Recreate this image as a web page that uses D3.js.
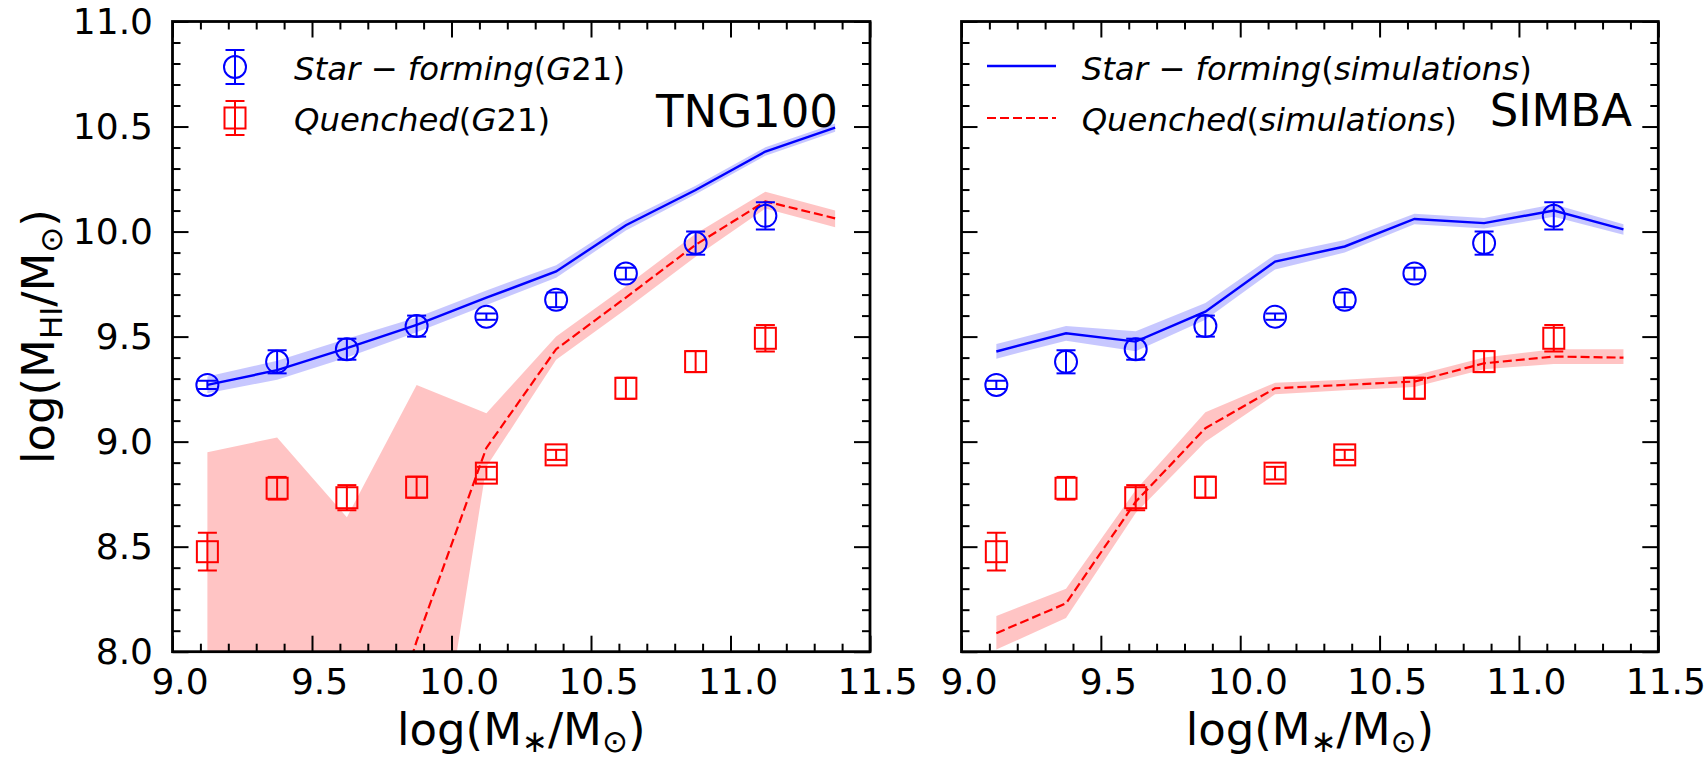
<!DOCTYPE html>
<html>
<head>
<meta charset="utf-8">
<script src="https://cdn.jsdelivr.net/npm/d3@7"></script>
<style>
  html, body { margin: 0; padding: 0; background: #fff; }
  svg { display: block; font-family: "DejaVu Sans", sans-serif; }
</style>
</head>
<body>
<svg id="chart" width="1706" height="759"></svg>
<script>
// Stellar-mass bins of the observed (G21) points and of the simulation medians
const massBins = [9.125, 9.375, 9.625, 9.875, 10.125, 10.375, 10.625, 10.875, 11.125];
const simBins = [9.125, 9.375, 9.625, 9.875, 10.125, 10.375, 10.625, 10.875, 11.125, 11.375];

// Observed HI masses, G21
const sfG21 = [9.27, 9.38, 9.44, 9.55, 9.595, 9.675, 9.80, 9.945, 10.075];
const sfG21Err = [0.02, 0.055, 0.05, 0.05, 0.015, 0.035, 0.028, 0.055, 0.065];
const qG21 = [8.476, 8.778, 8.733, 8.783, 8.85, 8.937, 9.254, 9.381, 9.492];
const qG21Err = [0.09, 0.054, 0.06, 0.05, 0.03, 0.024, 0.05, 0.05, 0.063];

// TNG100 medians and scatter bands
const tngSF = [9.27, 9.34, 9.445, 9.556, 9.685, 9.81, 10.03, 10.198, 10.381, 10.495];
const tngSFLow = [9.23, 9.295, 9.40, 9.521, 9.65, 9.78, 10.005, 10.178, 10.361, 10.475];
const tngSFHigh = [9.31, 9.385, 9.49, 9.591, 9.72, 9.84, 10.055, 10.218, 10.401, 10.515];
const tngQ = [7.0, 7.2, 7.0, 8.05, 8.97, 9.44, 9.686, 9.937, 10.144, 10.063];
const tngQLow = [6.5, 6.6, 6.4, 6.8, 8.88, 9.39, 9.63, 9.88, 10.11, 10.02];
const tngQHigh = [8.95, 9.02, 8.64, 9.27, 9.135, 9.50, 9.74, 9.99, 10.19, 10.10];

// SIMBA medians and scatter bands
const simbaSF = [9.429, 9.516, 9.476, 9.619, 9.857, 9.929, 10.06, 10.04, 10.10, 10.01];
const simbaSFLow = [9.395, 9.48, 9.43, 9.58, 9.82, 9.90, 10.035, 10.015, 10.07, 9.985];
const simbaSFHigh = [9.465, 9.55, 9.525, 9.66, 9.89, 9.96, 10.085, 10.065, 10.13, 10.035];
const simbaQ = [8.088, 8.23, 8.714, 9.064, 9.254, 9.27, 9.286, 9.373, 9.405, 9.40];
const simbaQLow = [8.01, 8.16, 8.66, 9.0, 9.225, 9.245, 9.26, 9.345, 9.37, 9.37];
const simbaQHigh = [8.17, 8.30, 8.77, 9.14, 9.28, 9.295, 9.315, 9.40, 9.44, 9.44];

// Axis ticks
const xMajor = [9.0, 9.5, 10.0, 10.5, 11.0, 11.5];
const yMajor = [8.0, 8.5, 9.0, 9.5, 10.0, 10.5, 11.0];
const xMinor = d3.range(90, 116).map(v => v / 10).filter(v => !xMajor.some(m => Math.abs(m - v) < 1e-9));
const yMinor = d3.range(80, 111).map(v => v / 10).filter(v => !yMajor.some(m => Math.abs(m - v) < 1e-9));

const legendSim = ["Star − forming(simulations)", "Quenched(simulations)"];
const legendObs = ["Star − forming(G21)", "Quenched(G21)"];

const BLUE = "#0000ff", RED = "#ff0000";
const svg = d3.select("#chart");

const plotTop = 21.5, plotBottom = 651.7;
const y = d3.scaleLinear().domain([8, 11]).range([plotBottom, plotTop]);

const panels = [
  { name: "TNG100", x0: 172.5, x1: 870, sf: tngSF, sfLo: tngSFLow, sfHi: tngSFHigh,
    q: tngQ, qLo: tngQLow, qHi: tngQHigh, yLabels: true, titleX: 838, titleY: 127, legend: "obs" },
  { name: "SIMBA", x0: 961.5, x1: 1658.3, sf: simbaSF, sfLo: simbaSFLow, sfHi: simbaSFHigh,
    q: simbaQ, qLo: simbaQLow, qHi: simbaQHigh, yLabels: false, titleX: 1632, titleY: 126, legend: "sim" }
];

// Italic math-style label: letters slanted, digits, brackets and operators upright
function mathText(sel, str) {
  const parts = str.match(/[A-Za-z]+|[^A-Za-z]+/g);
  parts.forEach(p => {
    const isLetters = /^[A-Za-z]+$/.test(p);
    sel.append("tspan").attr("font-style", isLetters ? "italic" : "normal").text(p);
  });
}

function errorBar(g, cx, cy, yTop, yBot, cap, color) {
  g.append("line").attr("x1", cx).attr("x2", cx).attr("y1", yTop).attr("y2", yBot)
    .attr("stroke", color).attr("stroke-width", 2);
  [yTop, yBot].forEach(yy => g.append("line")
    .attr("x1", cx - cap).attr("x2", cx + cap).attr("y1", yy).attr("y2", yy)
    .attr("stroke", color).attr("stroke-width", 2));
}

panels.forEach((p, i) => {
  const x = d3.scaleLinear().domain([9, 11.5]).range([p.x0, p.x1]);
  const g = svg.append("g");
  const clipId = "clip" + i;
  svg.append("clipPath").attr("id", clipId).append("rect")
    .attr("x", p.x0).attr("y", plotTop).attr("width", p.x1 - p.x0).attr("height", plotBottom - plotTop);
  const plot = g.append("g").attr("clip-path", `url(#${clipId})`);

  const area = (lo, hi) => d3.area().x((d, k) => x(simBins[k])).y0((d, k) => y(lo[k])).y1((d, k) => y(hi[k]))(simBins);
  const line = vals => d3.line().x((d, k) => x(simBins[k])).y((d, k) => y(vals[k]))(simBins);

  // scatter bands
  plot.append("path").attr("d", area(p.sfLo, p.sfHi)).attr("fill", BLUE).attr("fill-opacity", 0.22);
  plot.append("path").attr("d", area(p.qLo, p.qHi)).attr("fill", RED).attr("fill-opacity", 0.23);
  // medians
  plot.append("path").attr("d", line(p.sf)).attr("fill", "none").attr("stroke", BLUE).attr("stroke-width", 2.4);
  plot.append("path").attr("d", line(p.q)).attr("fill", "none").attr("stroke", RED).attr("stroke-width", 2.2)
    .attr("stroke-dasharray", "9,4");

  // observed points with error bars
  const pts = plot.append("g");
  massBins.forEach((m, k) => {
    const cx = x(m);
    errorBar(pts, cx, y(sfG21[k]), y(sfG21[k] + sfG21Err[k]), y(sfG21[k] - sfG21Err[k]), 9.5, BLUE);
    pts.append("circle").attr("cx", cx).attr("cy", y(sfG21[k])).attr("r", 11)
      .attr("fill", "none").attr("stroke", BLUE).attr("stroke-width", 2);
    errorBar(pts, cx, y(qG21[k]), y(qG21[k] + qG21Err[k]), y(qG21[k] - qG21Err[k]), 9.5, RED);
    pts.append("rect").attr("x", cx - 10.5).attr("y", y(qG21[k]) - 10.5).attr("width", 21).attr("height", 21)
      .attr("fill", "none").attr("stroke", RED).attr("stroke-width", 2);
  });

  // axes: inward ticks on all four sides
  const fmt = d3.format(".1f");
  const axisStyle = sel => {
    sel.select(".domain").remove();
    sel.selectAll(".tick line").attr("stroke", "#000").attr("stroke-width", 2);
    sel.selectAll("text").attr("font-size", 36).attr("fill", "#000").attr("font-family", "DejaVu Sans");
  };
  g.append("g").attr("transform", `translate(0,${plotBottom})`)
    .call(d3.axisBottom(x).tickValues(xMajor).tickFormat(fmt).tickSizeInner(-16).tickSizeOuter(0).tickPadding(16.5))
    .call(axisStyle).selectAll("text").attr("dx", 7);
  g.append("g").attr("transform", `translate(0,${plotBottom})`)
    .call(d3.axisBottom(x).tickValues(xMinor).tickFormat("").tickSizeInner(-8).tickSizeOuter(0)).call(axisStyle);
  g.append("g").attr("transform", `translate(0,${plotTop})`)
    .call(d3.axisTop(x).tickValues(xMajor).tickFormat("").tickSizeInner(-16).tickSizeOuter(0)).call(axisStyle);
  g.append("g").attr("transform", `translate(0,${plotTop})`)
    .call(d3.axisTop(x).tickValues(xMinor).tickFormat("").tickSizeInner(-8).tickSizeOuter(0)).call(axisStyle);
  g.append("g").attr("transform", `translate(${p.x0},0)`)
    .call(d3.axisLeft(y).tickValues(yMajor).tickFormat(p.yLabels ? fmt : "").tickSizeInner(-16).tickSizeOuter(0).tickPadding(19.5))
    .call(axisStyle);
  g.append("g").attr("transform", `translate(${p.x0},0)`)
    .call(d3.axisLeft(y).tickValues(yMinor).tickFormat("").tickSizeInner(-8).tickSizeOuter(0)).call(axisStyle);
  g.append("g").attr("transform", `translate(${p.x1},0)`)
    .call(d3.axisRight(y).tickValues(yMajor).tickFormat("").tickSizeInner(-16).tickSizeOuter(0)).call(axisStyle);
  g.append("g").attr("transform", `translate(${p.x1},0)`)
    .call(d3.axisRight(y).tickValues(yMinor).tickFormat("").tickSizeInner(-8).tickSizeOuter(0)).call(axisStyle);

  // frame
  g.append("rect").attr("x", p.x0).attr("y", plotTop).attr("width", p.x1 - p.x0).attr("height", plotBottom - plotTop)
    .attr("fill", "none").attr("stroke", "#000").attr("stroke-width", 2.8);

  // panel name
  g.append("text").attr("x", p.titleX).attr("y", p.titleY).attr("text-anchor", "end")
    .attr("font-size", 45).text(p.name);

  // x-axis label: log(M∗/M⊙)
  const xl = g.append("text").attr("x", (p.x0 + p.x1) / 2).attr("y", 745).attr("text-anchor", "middle").attr("font-size", 45);
  xl.append("tspan").text("log(M");
  xl.append("tspan").attr("font-size", 31).attr("dy", 7).text("∗");
  xl.append("tspan").attr("dy", -7).text("/M");
  xl.append("tspan").attr("font-size", 31).attr("dy", 7).text("⊙");
  xl.append("tspan").attr("dy", -7).text(")");

  // legend
  const lg = g.append("g");
  const rows = [80, 131];
  if (p.legend === "obs") {
    const hx = 235;
    errorBar(lg, hx, 67, 50, 84, 9.5, BLUE);
    lg.append("circle").attr("cx", hx).attr("cy", 67).attr("r", 11).attr("fill", "none").attr("stroke", BLUE).attr("stroke-width", 2);
    errorBar(lg, hx, 118, 101, 135, 9.5, RED);
    lg.append("rect").attr("x", hx - 10.5).attr("y", 118 - 10.5).attr("width", 21).attr("height", 21)
      .attr("fill", "none").attr("stroke", RED).attr("stroke-width", 2);
    legendObs.forEach((t, k) => mathText(lg.append("text").attr("x", 294).attr("y", rows[k]).attr("font-size", 32.3), t));
  } else {
    lg.append("line").attr("x1", 987).attr("x2", 1056).attr("y1", 66).attr("y2", 66).attr("stroke", BLUE).attr("stroke-width", 2.4);
    lg.append("line").attr("x1", 987).attr("x2", 1056).attr("y1", 118).attr("y2", 118).attr("stroke", RED)
      .attr("stroke-width", 2.2).attr("stroke-dasharray", "9,4");
    legendSim.forEach((t, k) => mathText(lg.append("text").attr("x", 1081.7).attr("y", rows[k]).attr("font-size", 32.3), t));
  }
});

// y-axis label: log(M_HI/M⊙)
const yl = svg.append("text").attr("transform", `translate(54,${(plotTop + plotBottom) / 2}) rotate(-90)`)
  .attr("text-anchor", "middle").attr("font-size", 45);
yl.append("tspan").text("log(M");
yl.append("tspan").attr("font-size", 31).attr("dy", 8).text("HI");
yl.append("tspan").attr("dy", -8).text("/M");
yl.append("tspan").attr("font-size", 31).attr("dy", 8).text("⊙");
yl.append("tspan").attr("dy", -8).text(")");
</script>
</body>
</html>
